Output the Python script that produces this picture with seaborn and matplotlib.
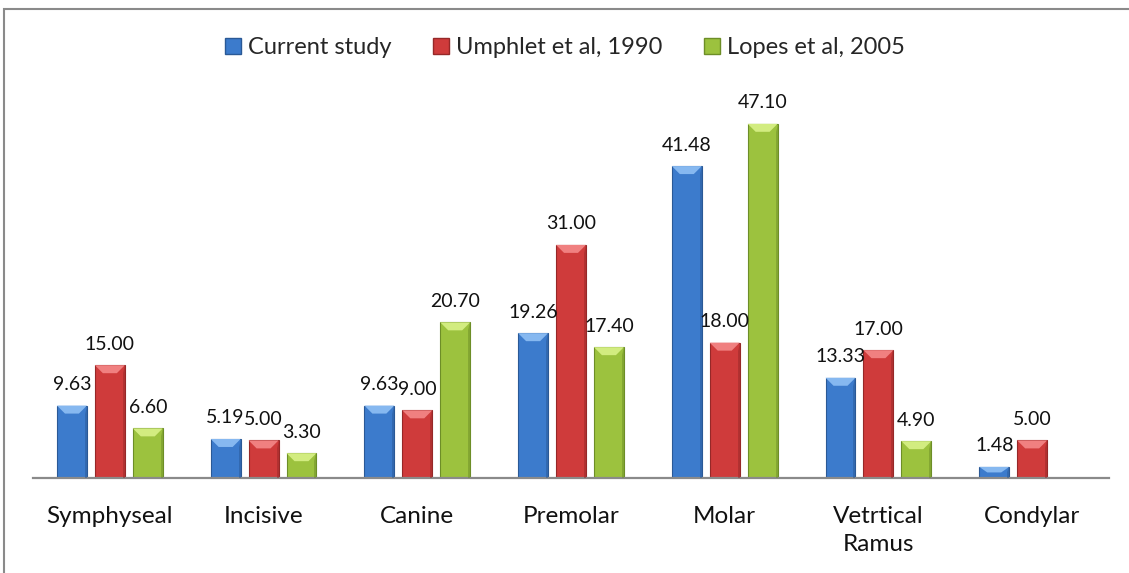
import seaborn as sns
import matplotlib.pyplot as plt
import matplotlib.patches as mpatches
import pandas as pd
import numpy as np

# data
categories = ['Symphyseal', 'Incisive', 'Canine', 'Premolar', 'Molar', 'Vetrtical\nRamus', 'Condylar']
series = ['Current study', 'Umphlet et al, 1990', 'Lopes et al, 2005']
current_study = [9.63, 5.19, 9.63, 19.26, 41.48, 13.33, 1.48]
umphlet_1990 = [15.00, 5.00, 9.00, 31.00, 18.00, 17.00, 5.00]
lopes_2005 = [6.60, 3.30, 20.70, 17.40, 47.10, 4.90, np.nan]

colors = ['#3c7bcc', '#cf3b3b', '#9cc23e']
edges = ['#2a5996', '#962828', '#6d8e27']
tops = ['#86b8f0', '#f08080', '#d2ec80']

df = pd.DataFrame({
    'category': categories * 3,
    'series': [series[0]] * 7 + [series[1]] * 7 + [series[2]] * 7,
    'value': current_study + umphlet_1990 + lopes_2005,
})

sns.set_style('white')
plt.rcParams['font.family'] = ['Lato', 'DejaVu Sans']

fig = plt.figure(figsize=(11.29, 5.73), dpi=100)
ax = fig.add_axes([33 / 1129, 95 / 573, 1076 / 1129, 376 / 573])

sns.barplot(data=df, x='category', y='value', hue='series', order=categories,
            hue_order=series, palette=colors, saturation=1, width=0.74, gap=0.21,
            errorbar=None, legend=False, ax=ax)
ax.set_ylim(0, 50)

# bevel look on each bar + value labels
px_x = (ax.get_xlim()[1] - ax.get_xlim()[0]) / 1076
px_y = 50 / 376
for i, cont in enumerate(ax.containers):
    vals = [current_study, umphlet_1990, lopes_2005][i]
    for bar, v in zip(cont, vals):
        if np.isnan(v):
            bar.set_visible(False)
            continue
        bar.set_edgecolor(edges[i])
        bar.set_linewidth(0.8)
        x0, w, h = bar.get_x(), bar.get_width(), bar.get_height()
        dx, dy = 8 * px_x, min(8 * px_y, h / 2)
        ax.add_patch(mpatches.Polygon(
            [(x0, h), (x0 + w, h), (x0 + w - dx, h - dy), (x0 + dx, h - dy)],
            closed=True, facecolor=tops[i], edgecolor='none', zorder=3))
        ax.add_patch(mpatches.Polygon(
            [(x0 + w, h), (x0 + w, 0), (x0 + w - 2 * px_x, 0), (x0 + w - 2 * px_x, h - dy)],
            closed=True, facecolor=edges[i], edgecolor='none', alpha=0.5, zorder=3))
        ax.annotate(f'{v:.2f}', (x0 + w / 2, h), xytext=(0, 9), textcoords='offset points',
                    ha='center', va='bottom', fontsize=14, color='#111111',
                    annotation_clip=False)

ax.set_xlabel('')
ax.set_ylabel('')
ax.set_yticks([])
ax.tick_params(axis='x', length=0, pad=20, labelsize=17.5, colors='#111111')
for lbl in ax.get_xticklabels():
    lbl.set_linespacing(1.4)
for s in ['top', 'left', 'right']:
    ax.spines[s].set_visible(False)
ax.spines['bottom'].set_color('#8a8a8a')
ax.spines['bottom'].set_linewidth(1.6)

handles = [mpatches.Patch(facecolor=c, edgecolor=e, label=s) for c, e, s in zip(colors, edges, series)]
fig.legend(handles=handles, loc='center', bbox_to_anchor=(565 / 1129, 1 - 48 / 573),
           ncol=3, frameon=False, fontsize=17, handlelength=0.68, handleheight=0.68,
           handletextpad=0.3, columnspacing=1.75)

# outer chart frame
fig.patches.append(mpatches.Rectangle((3.5 / 1129, -0.1), 1.2, 1.1 - 9.5 / 573,
                                      transform=fig.transFigure, fill=False,
                                      edgecolor='#8a8a8a', linewidth=1.5))

fig.savefig('out.png', dpi=100)
